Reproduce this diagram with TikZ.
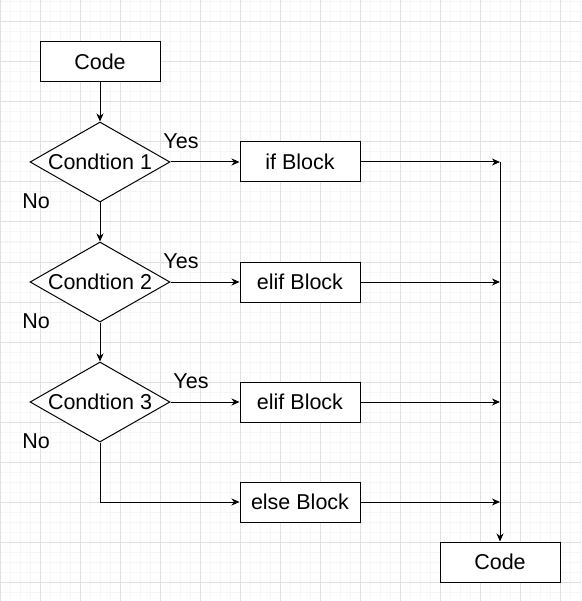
\documentclass[tikz,border=0pt]{standalone}
\usepackage{fontspec}
\setmainfont{Liberation Sans}
\usetikzlibrary{shapes.geometric,arrows.meta}
\definecolor{minorgrid}{HTML}{F6F6F6}
\definecolor{majorgrid}{HTML}{E0E0E0}
\begin{document}
\begin{tikzpicture}[x=1pt,y=-1pt,
  every node/.style={font=\fontsize{21.5}{25}\selectfont},
  stepbox/.style={draw, line width=1pt, minimum width=120, minimum height=40, inner sep=0, fill=white},
  decision/.style={draw, line width=1pt, diamond, aspect=1.75, minimum width=140, minimum height=80, inner sep=0, fill=white},
  lbl/.style={inner sep=0},
  conn/.style={line width=1pt, -{Stealth[length=8pt,width=7pt,inset=2.5pt]}},
  plain/.style={line width=1pt}]
\useasboundingbox (0,0) rectangle (581,601);
\fill[white] (0,0) rectangle (581,601);
% grid
\foreach \x in {0,10,...,580} \draw[minorgrid, line width=1pt] (\x,0) -- (\x,601);
\foreach \y in {2,12,...,600} \draw[minorgrid, line width=1pt] (0,\y) -- (581,\y);
\foreach \x in {0,40,...,580} \draw[majorgrid, line width=1pt] (\x,0) -- (\x,601);
\foreach \y in {22,62,...,600} \draw[majorgrid, line width=1pt] (0,\y) -- (581,\y);
% nodes
\node[stepbox] (code1) at (100,62) {Code};
\node[decision] (c1) at (100,162) {Condtion 1};
\node[stepbox] (ifb) at (300,162) {if Block};
\node[decision] (c2) at (100,282) {Condtion 2};
\node[stepbox] (elif1) at (300,282) {elif Block};
\node[decision] (c3) at (100,402) {Condtion 3};
\node[stepbox] (elif2) at (300,402) {elif Block};
\node[stepbox] (elseb) at (300,502) {else Block};
\node[stepbox] (code2) at (500,562) {Code};
\coordinate (j1) at (500,162);
\coordinate (j2) at (500,282);
\coordinate (j3) at (500,402);
\coordinate (j4) at (500,502);
% labels
\node[lbl] (yes1) at (181,141) {Yes};
\node[lbl] (yes2) at (181,261) {Yes};
\node[lbl] (yes3) at (191,381) {Yes};
\node[lbl] (no1) at (36,201) {No};
\node[lbl] (no2) at (36,321) {No};
\node[lbl] (no3) at (36,441) {No};
% connectors
\draw[conn] (code1.south) -- (c1.north);
\draw[conn] (c1.east) -- (ifb.west);
\draw[conn] (c1.south) -- (c2.north);
\draw[conn] (c2.east) -- (elif1.west);
\draw[conn] (c2.south) -- (c3.north);
\draw[conn] (c3.east) -- (elif2.west);
\draw[conn] (c3.south) |- (elseb.west);
\draw[conn] (ifb.east) -- (j1);
\draw[conn] (elif1.east) -- (j2);
\draw[conn] (elif2.east) -- (j3);
\draw[conn] (elseb.east) -- (j4);
\draw[conn] (j1) -- (code2.north);
\end{tikzpicture}
\end{document}
